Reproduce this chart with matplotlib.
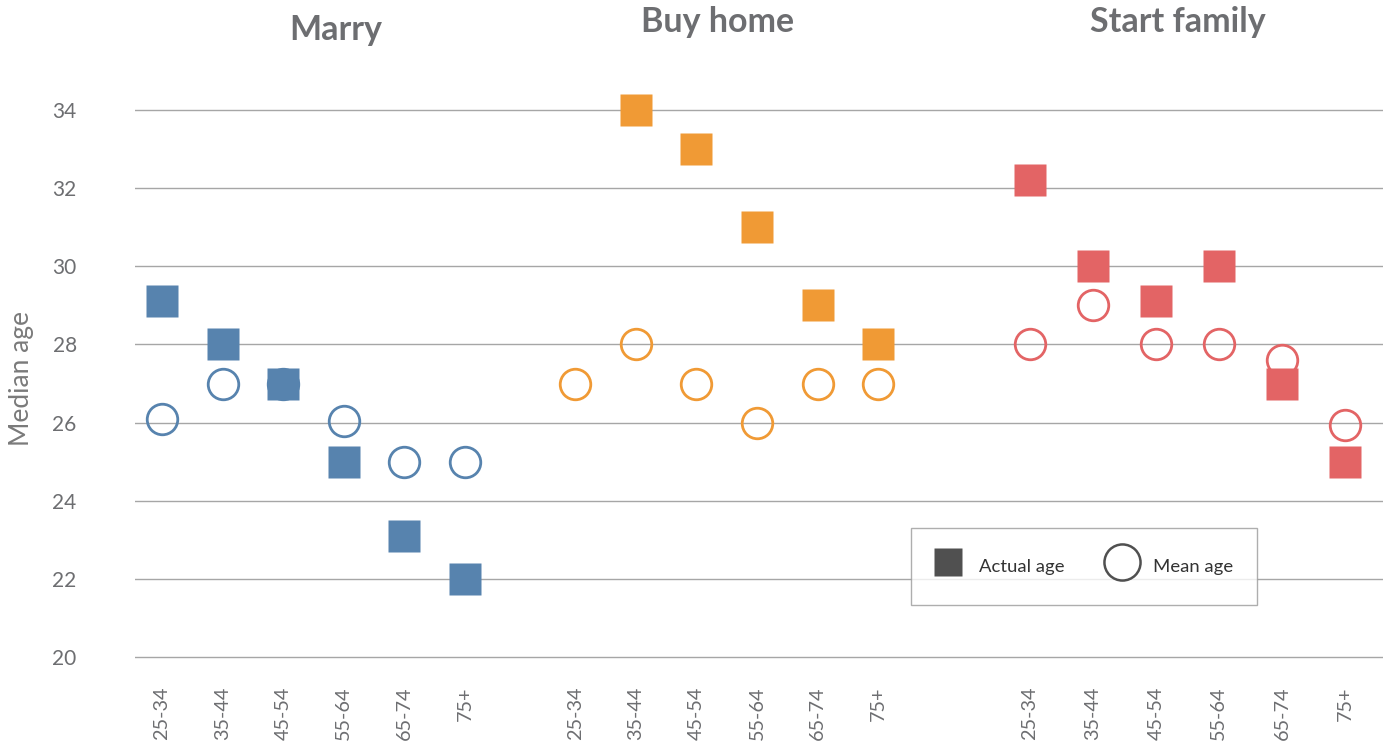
import numpy as np
import matplotlib
matplotlib.use("Agg")
import matplotlib.pyplot as plt
from matplotlib.lines import Line2D

plt.rcParams['font.family'] = ['Lato', 'DejaVu Sans']

age_groups = ["25-34", "35-44", "45-54", "55-64", "65-74", "75+"]
panels = ["Marry", "Buy home", "Start family"]

marry_actual = [29.1, 28, 27, 25, 23.1, 22]
marry_mean = [26.1, 27, 27, 26.05, 25, 25]
home_actual = [np.nan, 34, 33, 31, 29, 28]
home_mean = [27, 28, 27, 26, 27, 27]
family_actual = [32.2, 30, 29.1, 30, 27, 25]
family_mean = [28, 29, 28, 28, 27.6, 25.95]

colors = ["#5783AE", "#F09A35", "#E36465"]
actual_sets = [marry_actual, home_actual, family_actual]
mean_sets = [marry_mean, home_mean, family_mean]

# layout
group_offsets = [0.0, 6.82, 14.32]
group_steps = [1.0, 1.0, 1.04]

W, H = 1383, 748
fig = plt.figure(figsize=(W / 100, H / 100), dpi=100)
ylo, yhi = 19.6, 35.0
ppu = (657 - 110) / 14.0
ax_top = 110 - (yhi - 34) * ppu
ax_bot = 657 + (20 - ylo) * ppu
ax_left, ax_right = 135, 1383
ax = fig.add_axes([ax_left / W, 1 - ax_bot / H, (ax_right - ax_left) / W, (ax_bot - ax_top) / H])

xticks, xlabels = [], []
for g in range(3):
    xs = [group_offsets[g] + i * group_steps[g] for i in range(len(age_groups))]
    ax.plot(xs, mean_sets[g], linestyle='none', marker='o', markersize=22,
            markerfacecolor='none', markeredgecolor=colors[g], markeredgewidth=2.0,
            zorder=3, clip_on=False)
    ax.plot(xs, actual_sets[g], linestyle='none', marker='s', markersize=23,
            markerfacecolor=colors[g], markeredgecolor='none', zorder=4, clip_on=False)
    xticks += xs
    xlabels += age_groups

unit = 60.6
ax.set_xlim(-(162 - ax_left) / unit, (ax_right - 162) / unit)
ax.set_ylim(ylo, yhi)
ax.set_yticks(range(20, 35, 2))
ax.set_xticks(xticks)
ax.set_xticklabels(xlabels, rotation=90, va='top', ha='center')
ax.grid(axis='y', color='#a6a6a6', linewidth=1.0)
ax.set_axisbelow(True)
for s in ax.spines.values():
    s.set_visible(False)
ax.tick_params(axis='both', length=0, colors='#6d6e71')
ax.tick_params(axis='y', pad=42, labelsize=15)
ax.tick_params(axis='x', pad=10, labelsize=14.3)
for lab in ax.get_yticklabels():
    lab.set_horizontalalignment('right')

fig.text(22 / W, 1 - 378 / H, "Median age", rotation=90, ha='center', va='center',
         fontsize=19, color='#7a7a7a')

title_pos = [(336, 30), (718, 22), (1178, 22)]
for name, (tx, ty) in zip(panels, title_pos):
    fig.text(tx / W, 1 - ty / H, name, ha='center', va='center', fontsize=24.5,
             fontweight='bold', color='#6d6e71')

handles = [
    Line2D([], [], linestyle='none', marker='s', markersize=19.5,
           markerfacecolor='#505050', markeredgecolor='none', label='Actual age'),
    Line2D([], [], linestyle='none', marker='o', markersize=26,
           markerfacecolor='none', markeredgecolor='#505050', markeredgewidth=1.8,
           label='Mean age'),
]
leg = fig.legend(handles=handles, loc='center', ncol=2,
                 bbox_to_anchor=(1084 / W, 1 - 566.5 / H), fontsize=13.3,
                 frameon=True, fancybox=False, edgecolor='#9a9a9a',
                 borderpad=1.3, handlelength=1.4, handleheight=2.1,
                 handletextpad=1.0, columnspacing=2.4, labelcolor='#333333')
leg.get_frame().set_linewidth(1.0)

fig.savefig("out.png", dpi=100)
